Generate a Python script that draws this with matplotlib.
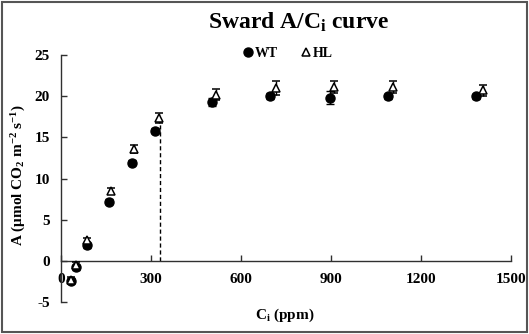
import numpy as np
import matplotlib
matplotlib.use("Agg")
import matplotlib.pyplot as plt
from matplotlib.lines import Line2D
from matplotlib.patches import Rectangle

# ======================================
# DATA
# ======================================

wt_ci = [33, 51, 88, 160, 236, 315, 505, 697, 896, 1092, 1384]
wt_a = [-2.4, -0.8, 1.9, 7.2, 11.9, 15.8, 19.3, 20.0, 19.8, 20.0, 20.0]
wt_err = [0.3, 0.3, 0.3, 0.3, 0.3, 0.3, 0.5, 0.4, 0.8, 0.3, 0.3]

hl_ci = [33, 51, 88, 166, 242, 328, 518, 717, 912, 1109, 1406]
hl_a = [-2.3, -0.5, 2.5, 8.5, 13.6, 17.4, 20.2, 21.0, 21.1, 21.1, 20.7]
hl_err = [0.3, 0.3, 0.3, 0.4, 0.5, 0.6, 0.7, 0.8, 0.7, 0.7, 0.7]

ci_line = 330
x_ticks = [0, 300, 600, 900, 1200, 1500]
y_ticks = [-5, 0, 5, 10, 15, 20, 25]

# ======================================
# PLOT
# ======================================

plt.rcParams['font.family'] = ['Liberation Serif', 'DejaVu Serif']
plt.rcParams['font.weight'] = 'bold'
plt.rcParams['axes.unicode_minus'] = False
plt.rcParams['mathtext.fontset'] = 'custom'
plt.rcParams['mathtext.rm'] = 'Liberation Serif:bold'
plt.rcParams['mathtext.it'] = 'Liberation Serif:bold'
plt.rcParams['mathtext.bf'] = 'Liberation Serif:bold'

fig = plt.figure(figsize=(5.29, 3.34), dpi=100)
ax = fig.add_axes([0.1153, 0.0958, 0.8501, 0.7395])

# dashed marker at ambient Ci
ax.plot([ci_line, ci_line], [0, hl_a[5] - 0.4], color='black',
        linestyle=(0, (3, 2)), linewidth=1.0, zorder=1)

ax.errorbar(wt_ci, wt_a, yerr=wt_err, fmt='o', color='black',
            markersize=6.5, capsize=3, elinewidth=1, capthick=1, zorder=3)
ax.errorbar(hl_ci, hl_a, yerr=hl_err, fmt='^', color='black',
            markerfacecolor='white', markeredgecolor='black',
            markeredgewidth=1.1, markersize=6, capsize=3,
            elinewidth=1, capthick=1, zorder=4)

ax.set_xlim(0, 1500)
ax.set_ylim(-5, 25)
ax.set_xticks(x_ticks)
ax.set_yticks(y_ticks)

ax.spines['top'].set_visible(False)
ax.spines['right'].set_visible(False)
ax.spines['bottom'].set_position(('data', 0))
for s in ['left', 'bottom']:
    ax.spines[s].set_color('#303030')
    ax.spines[s].set_linewidth(1.0)

ax.tick_params(axis='x', direction='in', length=4, width=1, pad=9,
               labelsize=11, color='#303030')
ax.tick_params(axis='y', direction='in', length=4, width=1, pad=8,
               labelsize=11, color='#303030')

fig.text(0.539, 0.057, r'C$_\mathrm{i}$ (ppm)',
         ha='center', va='center', fontsize=11, fontweight='bold')
fig.text(0.036, 0.476, r'A ($\mu$mol CO$_2$ m$^{-2}$ s$^{-1}$)',
         ha='center', va='center', rotation=90, fontsize=11,
         fontweight='bold')

fig.text(0.565, 0.934, r'Sward A/C$_\mathrm{i}$ curve', ha='center',
         va='center', fontsize=17, fontweight='bold')

handles = [
    Line2D([], [], marker='o', color='black', linestyle='none',
           markersize=6.5),
    Line2D([], [], marker='^', color='black', markerfacecolor='white',
           markeredgewidth=1.1, linestyle='none', markersize=6),
]
fig.legend(handles, ['WT', 'HL'], ncol=2, frameon=False,
           loc='center', bbox_to_anchor=(0.543, 0.84),
           handletextpad=0.0, columnspacing=1.5, handlelength=1.0,
           prop={'size': 10, 'weight': 'bold'})

fig.patches.append(Rectangle((0.004, 0.006), 0.992, 0.988,
                             transform=fig.transFigure, fill=False,
                             edgecolor='#555555', linewidth=1.5))

fig.savefig("out.png", dpi=100)
